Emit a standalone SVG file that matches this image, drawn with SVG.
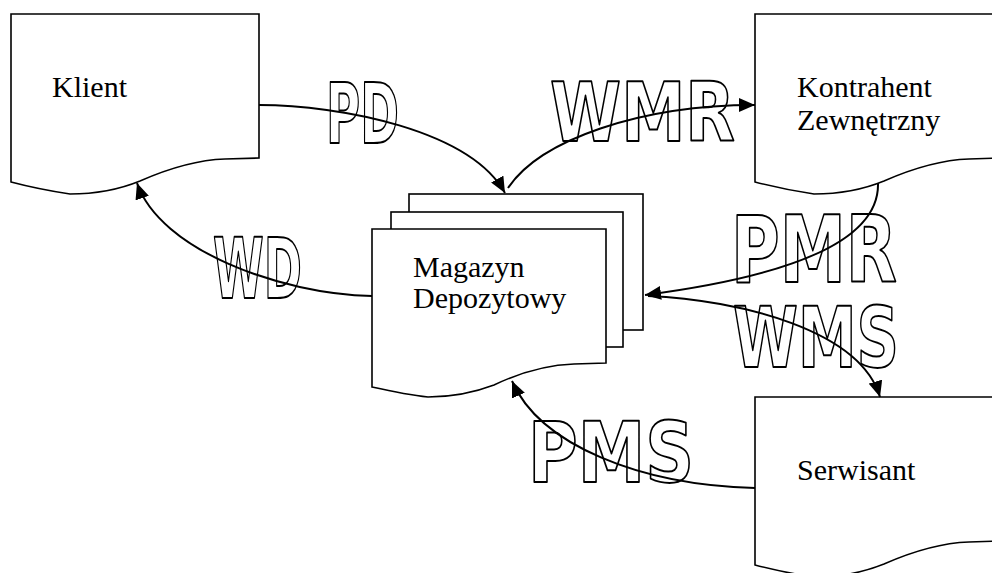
<svg xmlns="http://www.w3.org/2000/svg" width="992" height="573" viewBox="0 0 992 573">
<style>
.doc{fill:#fff;stroke:#000;stroke-width:1.6}
.t{font-family:"Liberation Serif","Times New Roman",serif;font-size:30px;fill:#000}
.lbl{font-family:"DejaVu Sans","Liberation Sans",Arial,sans-serif;font-weight:bold;fill:#fff;stroke:#000;stroke-width:2;stroke-linejoin:round}
.c{fill:none;stroke:#000;stroke-width:2}
</style>
<defs>
<marker id="ah" viewBox="0 0 16 14" refX="16" refY="7" markerWidth="16" markerHeight="14" markerUnits="userSpaceOnUse" orient="auto">
<path d="M0,0 L16,7 L0,14 Z" fill="#000"/>
</marker>
</defs>
<rect width="992" height="573" fill="#fff"/>
<g id="klient">
<path class="doc" d="M11,14 H259 V158 L225,159 C195,160 165,170 140,181 C118,190 95,194 70,194 C50,191 30,187 11,182 Z"/>
<text class="t" x="52" y="97">Klient</text>
</g>
<g id="kontrahent">
<path class="doc" d="M755,14 H1003 V158 L969,159 C939,160 909,170 884,181 C862,190 839,194 814,194 C794,191 774,187 755,182 Z"/>
<text class="t" x="797" y="97">Kontrahent</text>
<text class="t" x="797" y="130">Zewnętrzny</text>
</g>
<g id="serwisant">
<path class="doc" d="M755,397 H1003 V541 L969,542 C939,543 909,553 884,564 C862,573 839,577 814,577 C794,574 774,570 755,565 Z"/>
<text class="t" x="797" y="480">Serwisant</text>
</g>
<g id="magazyn">
<rect class="doc" x="409" y="194" width="234" height="136"/>
<rect class="doc" x="391" y="212" width="232" height="135"/>
<path class="doc" d="M372,229 H606 V363 L574,364 C545,365 517,374 494,385 C473,393 452,397 428,397 C409,395 390,391 372,387 Z"/>
<text class="t" x="413" y="277">Magazyn</text>
<text class="t" x="413" y="308">Depozytowy</text>
</g>
<g id="labels">
<text class="lbl" x="326" y="143" font-size="84" textLength="73" lengthAdjust="spacingAndGlyphs">PD</text>
<text class="lbl" x="550" y="141" font-size="82" textLength="185" lengthAdjust="spacingAndGlyphs">WMR</text>
<text class="lbl" x="213" y="298" font-size="83" textLength="89" lengthAdjust="spacingAndGlyphs">WD</text>
<text class="lbl" x="731" y="282" font-size="93" textLength="166" lengthAdjust="spacingAndGlyphs">PMR</text>
<text class="lbl" x="733" y="367" font-size="84" textLength="166" lengthAdjust="spacingAndGlyphs">WMS</text>
<text class="lbl" x="528" y="482" font-size="84" textLength="166" lengthAdjust="spacingAndGlyphs">PMS</text>
</g>
<g id="connectors">
<path class="c" d="M259,105 C340,105 470,130 505,193" marker-end="url(#ah)"/>
<path class="c" d="M508,188 C540,140 640,105 755,105" marker-end="url(#ah)"/>
<path class="c" d="M878,183 C880,250 760,280 645,295" marker-end="url(#ah)"/>
<path class="c" d="M648,296 C740,300 860,330 880,397" marker-end="url(#ah)"/>
<path class="c" d="M755,488 C640,485 540,445 512,381" marker-end="url(#ah)"/>
<path class="c" d="M372,296 C280,294 160,250 137,183" marker-end="url(#ah)"/>
</g>
</svg>
